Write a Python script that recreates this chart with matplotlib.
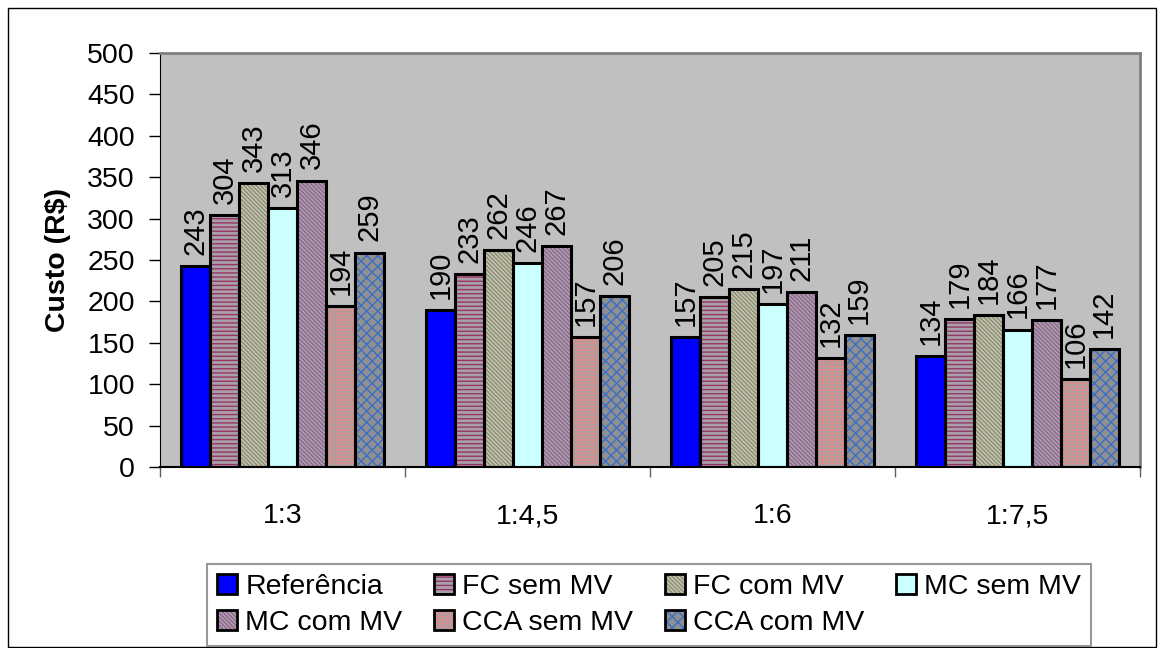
import numpy as np
import matplotlib
matplotlib.use("Agg")
import matplotlib.pyplot as plt
from matplotlib.patches import Patch, Rectangle

plt.rcParams['font.family'] = ['Liberation Sans', 'DejaVu Sans']
plt.rcParams['hatch.linewidth'] = 1.0

categorias = ["1:3", "1:4,5", "1:6", "1:7,5"]
series = ["Referência", "FC sem MV", "FC com MV", "MC sem MV",
          "MC com MV", "CCA sem MV", "CCA com MV"]
referencia = [243, 190, 157, 134]
fc_sem_mv = [304, 233, 205, 179]
fc_com_mv = [343, 262, 215, 184]
mc_sem_mv = [313, 246, 197, 166]
mc_com_mv = [346, 267, 211, 177]
cca_sem_mv = [194, 157, 132, 106]
cca_com_mv = [259, 206, 159, 142]
valores = [referencia, fc_sem_mv, fc_com_mv, mc_sem_mv,
           mc_com_mv, cca_sem_mv, cca_com_mv]

# (fundo, cor da trama, trama)
estilos = [
    ("#0000ff", "#0000ff", None),
    ("#a8a0a8", "#993366", "----"),
    ("#c4c4b4", "#8c8c70", "\\" * 8),
    ("#ccffff", "#ccffff", None),
    ("#8c6c8c", "#b4a0b4", "\\" * 8),
    ("#ff8080", "#a8a0a0", "+++++"),
    ("#909090", "#3a6ec8", "xxx"),
]

fig = plt.figure(figsize=(11.58, 6.48), dpi=100)
ax = fig.add_axes([160/1158, 1-467/648, 980/1158, 414/648])
ax.set_facecolor("#c0c0c0")

x = np.arange(len(categorias))
w = 0.118
n = len(series)
handles = []
for i, (nome, vals) in enumerate(zip(series, valores)):
    face, hc, h = estilos[i]
    pos = x + (i - (n - 1) / 2) * w
    ax.bar(pos, vals, w, color=face, edgecolor=hc, hatch=h, linewidth=0, zorder=2)
    ax.bar(pos, vals, w, fill=False, edgecolor="black", linewidth=2.2, zorder=3)
    for px, v in zip(pos, vals):
        ax.annotate(str(v), (px, v), xytext=(0, 8), textcoords="offset points",
                    rotation=90, ha="center", va="bottom", fontsize=21, zorder=4)
    handles.append((Patch(facecolor=face, edgecolor=hc, hatch=h, linewidth=0),
                    Patch(fill=False, edgecolor="black", linewidth=2)))

ax.set_xlim(-0.5, 3.5)
ax.set_ylim(0, 500)
ax.set_yticks(np.arange(0, 501, 50))
ax.tick_params(axis="y", labelsize=20.5, length=8, width=1, pad=10)
ax.set_xticks(x)
ax.set_xticklabels(categorias)
ax.tick_params(axis="x", which="major", length=0, labelsize=20.5, pad=26)
ax.set_xticks(np.arange(-0.5, 4.0, 1.0), minor=True)
ax.tick_params(axis="x", which="minor", length=7, width=1, color="#606060")
ax.set_ylabel("Custo (R$)", fontsize=20.5, fontweight="bold", labelpad=12)

for s in ["top", "right"]:
    ax.spines[s].set_color("#808080")
    ax.spines[s].set_linewidth(2)
ax.spines["left"].set_color("black")
ax.spines["bottom"].set_color("black")
ax.spines["bottom"].set_linewidth(1.5)

# ordem por colunas para preencher as linhas da legenda
ordem = [0, 4, 1, 5, 2, 6, 3]
leg = fig.legend([handles[k] for k in ordem], [series[k] for k in ordem],
                 ncol=4, loc="lower left", bbox_to_anchor=(207/1158, 2/648),
                 fontsize=20.5, frameon=True, fancybox=False,
                 handlelength=0.7, handleheight=0.7, handletextpad=0.3,
                 columnspacing=1.1, borderpad=0.35, labelspacing=0.35,
                 borderaxespad=0)
leg.get_frame().set_edgecolor("#808080")
leg.get_frame().set_linewidth(1.5)

fig.patches.append(Rectangle((8/1158, 1/648), 1148/1158, 639/648,
                             transform=fig.transFigure, fill=False,
                             edgecolor="black", linewidth=1))

fig.savefig("out.png", dpi=100)
